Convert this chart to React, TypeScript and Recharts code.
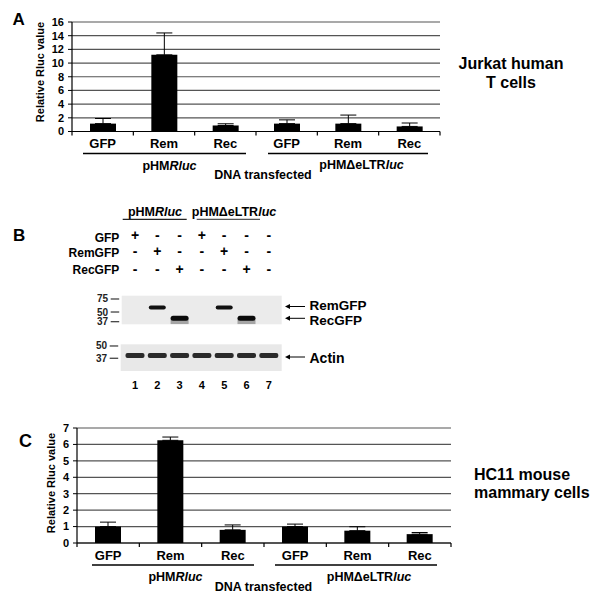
import React from "react";
import {
  BarChart, Bar, XAxis, YAxis, CartesianGrid, ErrorBar,
  ScatterChart, Scatter,
} from "recharts";

const FONT = '"Liberation Sans", Arial, Helvetica, sans-serif';

// panels A and C: relative Rluc values (mean, upper SD)
const conditions = ["GFP", "Rem", "Rec", "GFP", "Rem", "Rec"];
const jurkatMean = [1.15, 11.2, 0.88, 1.15, 1.15, 0.74];
const jurkatSd = [0.75, 3.2, 0.25, 0.55, 1.25, 0.5];
const jurkatTicks = [0, 2, 4, 6, 8, 10, 12, 14, 16];

const hc11Mean = [1.0, 6.25, 0.8, 1.0, 0.75, 0.54];
const hc11Sd = [0.27, 0.2, 0.3, 0.15, 0.24, 0.1];
const hc11Ticks = [0, 1, 2, 3, 4, 5, 6, 7];

// panel B: western blot
const laneIds = [1, 2, 3, 4, 5, 6, 7];
const gfpRow = ["+", "-", "-", "+", "-", "-", "-"];
const remRow = ["-", "+", "-", "-", "+", "-", "-"];
const recRow = ["-", "-", "+", "-", "-", "+", "-"];
const mwUpper = [37, 50, 75];
const mwLower = [37, 50];
const fusionBands = [
  { lane: 2, kDa: 57.5, kind: "rem" },
  { lane: 5, kDa: 57.5, kind: "rem" },
  { lane: 3, kDa: 41.2, kind: "rec" },
  { lane: 6, kDa: 41.2, kind: "rec" },
];
const actinBands = laneIds.map((lane) => ({ lane, kDa: 39.6 }));

type Row = { id: number; name: string; mean: number; sd: [number, number] };
const toRows = (means: number[], sds: number[]): Row[] =>
  conditions.map((name, i) => ({ id: i, name, mean: means[i], sd: [0, sds[i]] }));

const Y_AXIS_W = 20;
const X_AXIS_H = 30;

interface PanelProps {
  rows: Row[];
  ticks: number[];
  top: number;
  height: number;
  plotL: number;
  plotR: number;
  plotT: number;
  plotB: number;
}

function RlucBars({ rows, ticks, top, height, plotL, plotR, plotT, plotB }: PanelProps) {
  const half = (plotR - plotL) / rows.length / 2;
  const axisY = plotB - top;
  const renderTick = (p: any) => {
    const { x, index } = p;
    const last = index === rows.length - 1;
    return (
      <g>
        <line x1={x - half} y1={axisY} x2={x - half} y2={axisY + 4} stroke="#000" strokeWidth={1.2} />
        {last && <line x1={x + half} y1={axisY} x2={x + half} y2={axisY + 4} stroke="#000" strokeWidth={1.2} />}
        <text x={x} y={axisY + 16.5} textAnchor="middle" fontSize={13} fontWeight="bold" fontFamily={FONT} fill="#000">
          {rows[index] ? rows[index].name : ""}
        </text>
      </g>
    );
  };
  return (
    <div style={{ position: "absolute", left: 0, top }}>
      <BarChart
        width={600}
        height={height}
        data={rows}
        barSize={26}
        margin={{ top: plotT - top, right: 600 - plotR, left: plotL - Y_AXIS_W, bottom: top + height - plotB - X_AXIS_H }}
      >
        <CartesianGrid vertical={false} stroke="#555" strokeWidth={1.2} />
        <XAxis
          dataKey="id"
          type="category"
          interval={0}
          height={X_AXIS_H}
          axisLine={{ stroke: "#000", strokeWidth: 1.2 }}
          tickLine={false}
          tick={renderTick}
        />
        <YAxis
          type="number"
          width={Y_AXIS_W}
          domain={[0, ticks[ticks.length - 1]]}
          ticks={ticks}
          interval={0}
          axisLine={{ stroke: "#000", strokeWidth: 1.2 }}
          tickLine={{ stroke: "#000" }}
          tickSize={4}
          tickMargin={4}
          tick={{ fontSize: 11, fontWeight: "bold", fill: "#000", fontFamily: FONT }}
        />
        <Bar dataKey="mean" fill="#000" isAnimationActive={false}>
          <ErrorBar dataKey="sd" width={8} stroke="#000" strokeWidth={1} direction="y" isAnimationActive={false} />
        </Bar>
      </BarChart>
    </div>
  );
}

// lane geometry shared by blot charts and the sign table
const LANE0 = 135;
const LANE_STEP = 22.3;
const laneX = (n: number) => LANE0 + (n - 1) * LANE_STEP;
const laneAt = (px: number) => 1 + (px - LANE0) / LANE_STEP;

const renderFusionBand = (p: any) => {
  const { cx, cy, payload } = p;
  if (payload.kind === "rem") {
    return <rect x={cx - 8.5} y={cy - 2} width={17} height={4} rx={2} fill="#111" />;
  }
  return (
    <g>
      <rect x={cx - 9} y={cy + 1} width={18} height={5} fill="#888" opacity={0.7} />
      <rect x={cx - 9} y={cy - 2.5} width={18} height={5} rx={2.5} fill="#0a0a0a" />
    </g>
  );
};

const renderActinBand = (p: any) => {
  const { cx, cy } = p;
  return <rect x={cx - 9.5} y={cy - 2.5} width={19} height={5} rx={2} fill="#2a2a2a" />;
};

function mwTickFor(plotL: number) {
  return (p: any) => (
    <g>
      <line x1={plotL - 11} x2={plotL - 2.5} y1={p.y} y2={p.y} stroke="#444" strokeWidth={1.3} />
      <text x={plotL - 13.5} y={p.y + 3.5} textAnchor="end" fontSize={10} fontWeight="bold" fontFamily={FONT} fill="#222">
        {p.payload.value}
      </text>
    </g>
  );
}

function FusionBlot() {
  const top = 290, h = 40, L = 121.7, R = 281.7, T = 295.7, B = 324.3;
  return (
    <div style={{ position: "absolute", left: 0, top }}>
      <ScatterChart width={300} height={h} margin={{ top: T - top, bottom: top + h - B, left: L - 30, right: 300 - R }}>
        <CartesianGrid horizontal={false} vertical={false} fill="#ebebeb" />
        <XAxis type="number" dataKey="lane" domain={[laneAt(L), laneAt(R)]} allowDataOverflow hide />
        <YAxis
          type="number"
          dataKey="kDa"
          scale="log"
          domain={[34.1, 83.1]}
          allowDataOverflow
          ticks={mwUpper}
          interval={0}
          width={30}
          axisLine={false}
          tickLine={false}
          tick={mwTickFor(L)}
        />
        <Scatter data={fusionBands} shape={renderFusionBand} isAnimationActive={false} />
      </ScatterChart>
    </div>
  );
}

function ActinBlot() {
  const top = 340, h = 55, L = 120.7, R = 281.7, T = 344.3, B = 371;
  const laneTick = (p: any) => (
    <text x={p.x} y={389 - top} textAnchor="middle" fontSize={11} fontWeight="bold" fontFamily={FONT} fill="#000">
      {p.payload.value}
    </text>
  );
  return (
    <div style={{ position: "absolute", left: 0, top }}>
      <ScatterChart width={300} height={h} margin={{ top: T - top, bottom: top + h - B - 24, left: L - 30, right: 300 - R }}>
        <CartesianGrid horizontal={false} vertical={false} fill="#e8e8e8" />
        <XAxis
          type="number"
          dataKey="lane"
          domain={[laneAt(L), laneAt(R)]}
          allowDataOverflow
          ticks={laneIds}
          interval={0}
          height={24}
          axisLine={false}
          tickLine={false}
          tick={laneTick}
        />
        <YAxis
          type="number"
          dataKey="kDa"
          scale="log"
          domain={[27.1, 52.1]}
          allowDataOverflow
          ticks={mwLower}
          interval={0}
          width={30}
          axisLine={false}
          tickLine={false}
          tick={mwTickFor(L)}
        />
        <Scatter data={actinBands} shape={renderActinBand} isAnimationActive={false} />
      </ScatterChart>
    </div>
  );
}

const bold = { fontFamily: FONT, fontWeight: "bold" as const, fill: "#000" };

function Arrow({ y, x1, x2 }: { y: number; x1: number; x2: number }) {
  return (
    <g>
      <line x1={x1 + 3} y1={y} x2={x2} y2={y} stroke="#000" strokeWidth={1} />
      <path d={`M${x1},${y} L${x1 + 5},${y - 2.5} L${x1 + 5},${y + 2.5} Z`} fill="#000" />
    </g>
  );
}

function Annotations() {
  const signRows = [
    { label: "GFP", signs: gfpRow, base: 241.7, cy: 235 },
    { label: "RemGFP", signs: remRow, base: 257.3, cy: 251.7 },
    { label: "RecGFP", signs: recRow, base: 274, cy: 269 },
  ];
  return (
    <svg width={600} height={604} style={{ position: "absolute", left: 0, top: 0, pointerEvents: "none" }}>
      {/* panel A */}
      <text x={12.5} y={25} fontSize={17} {...bold}>A</text>
      <text x={39.5} y={72} fontSize={11} textAnchor="middle" dominantBaseline="central" transform="rotate(-90 39.5 72)" {...bold}>
        Relative Rluc value
      </text>
      <line x1={83} y1={153.5} x2={246} y2={153.5} stroke="#000" strokeWidth={1.3} />
      <line x1={268} y1={153.5} x2={428} y2={153.5} stroke="#000" strokeWidth={1.3} />
      <text x={169.5} y={169.5} fontSize={12.5} textAnchor="middle" {...bold}>
        pHM<tspan fontStyle="italic">Rluc</tspan>
      </text>
      <text x={361.5} y={169} fontSize={12.5} textAnchor="middle" {...bold}>
        pHMΔeLTR<tspan fontStyle="italic">luc</tspan>
      </text>
      <text x={263} y={178.5} fontSize={12.5} textAnchor="middle" {...bold}>DNA transfected</text>
      <text x={511} y={69} fontSize={16} textAnchor="middle" {...bold}>Jurkat human</text>
      <text x={511} y={88} fontSize={16} textAnchor="middle" {...bold}>T cells</text>

      {/* panel B */}
      <text x={13} y={240.7} fontSize={17} {...bold}>B</text>
      <text x={155} y={216} fontSize={12.5} textAnchor="middle" {...bold}>
        pHM<tspan fontStyle="italic">Rluc</tspan>
      </text>
      <line x1={122.7} y1={219.3} x2={186.7} y2={219.3} stroke="#222" strokeWidth={1.2} />
      <text x={234} y={216} fontSize={12.5} textAnchor="middle" {...bold}>
        pHMΔeLTR<tspan fontStyle="italic">luc</tspan>
      </text>
      <line x1={196.7} y1={219.3} x2={260} y2={219.3} stroke="#555" strokeWidth={1.2} />
      {signRows.map((r) => (
        <g key={r.label}>
          <text x={119.3} y={r.base} fontSize={12} textAnchor="end" {...bold}>{r.label}</text>
          {r.signs.map((s, i) => (
            <text key={i} x={laneX(laneIds[i])} y={r.cy + 4.7} fontSize={14} textAnchor="middle" {...bold}>{s}</text>
          ))}
        </g>
      ))}
      <Arrow x1={285} x2={305} y={306.5} />
      <text x={309.5} y={310} fontSize={13.5} {...bold}>RemGFP</text>
      <Arrow x1={285} x2={305} y={318.3} />
      <text x={309.5} y={324.8} fontSize={13.5} {...bold}>RecGFP</text>
      <Arrow x1={285} x2={305} y={357} />
      <text x={309.5} y={362.5} fontSize={14} {...bold}>Actin</text>

      {/* panel C */}
      <text x={19} y={447} fontSize={18} {...bold}>C</text>
      <text x={50.5} y={483} fontSize={11} textAnchor="middle" dominantBaseline="central" transform="rotate(-90 50.5 483)" {...bold}>
        Relative Rluc value
      </text>
      <line x1={92} y1={565} x2={254} y2={565} stroke="#000" strokeWidth={1.3} />
      <line x1={275} y1={565} x2={437} y2={565} stroke="#000" strokeWidth={1.3} />
      <text x={175.5} y={581} fontSize={12.5} textAnchor="middle" {...bold}>
        pHM<tspan fontStyle="italic">Rluc</tspan>
      </text>
      <text x={369} y={581} fontSize={12.5} textAnchor="middle" {...bold}>
        pHMΔeLTR<tspan fontStyle="italic">luc</tspan>
      </text>
      <text x={263.5} y={591} fontSize={12.5} textAnchor="middle" {...bold}>DNA transfected</text>
      <text x={474} y={479.5} fontSize={16} {...bold}>HC11 mouse</text>
      <text x={474} y={498} fontSize={16} {...bold}>mammary cells</text>
    </svg>
  );
}

export default function App() {
  const jurkatRows = toRows(jurkatMean, jurkatSd);
  const hc11Rows = toRows(hc11Mean, hc11Sd);
  return (
    <div style={{ position: "absolute", left: 0, top: 0, width: 600, height: 604, background: "#fff", overflow: "hidden" }}>
      <RlucBars rows={jurkatRows} ticks={jurkatTicks} top={0} height={190} plotL={72} plotR={440} plotT={22} plotB={131.5} />
      <FusionBlot />
      <ActinBlot />
      <RlucBars rows={hc11Rows} ticks={hc11Ticks} top={400} height={204} plotL={77} plotR={451} plotT={428} plotB={543} />
      <Annotations />
    </div>
  );
}
